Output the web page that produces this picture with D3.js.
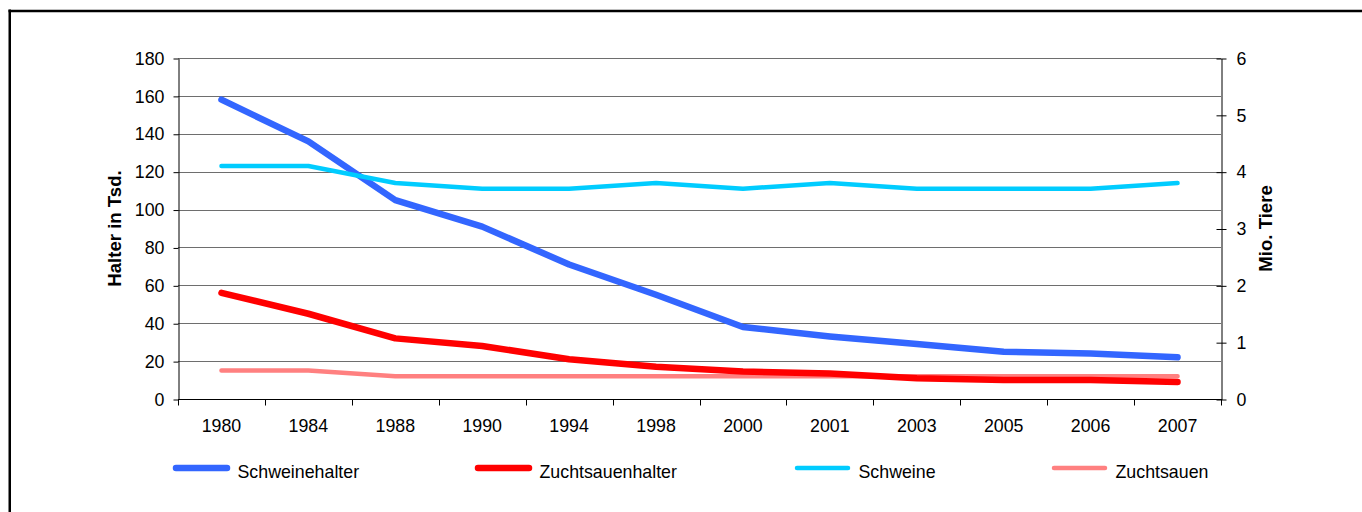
<!DOCTYPE html>
<html>
<head>
<meta charset="utf-8">
<script src="https://cdn.jsdelivr.net/npm/d3@7"></script>
<style>
  html, body { margin: 0; padding: 0; background: #fff; }
  svg { display: block; font-family: "Liberation Sans", Arial, sans-serif; }
</style>
</head>
<body>
<svg id="chart" width="1362" height="512"></svg>
<script>
// Years along the x axis
const years = ["1980", "1984", "1988", "1990", "1994", "1998", "2000", "2001", "2003", "2005", "2006", "2007"];

// Holders in thousands (left axis)
const schweinehalter   = [158, 136, 105, 91, 71, 55, 38, 33, 29, 25, 24, 22];
const zuchtsauenhalter = [56, 45, 32, 28, 21, 17, 14.5, 13.5, 11, 10, 10, 9];

// Animals in millions (right axis)
const schweine    = [4.1, 4.1, 3.8, 3.7, 3.7, 3.8, 3.7, 3.8, 3.7, 3.7, 3.7, 3.8];
const zuchtsauen  = [0.5, 0.5, 0.4, 0.4, 0.4, 0.4, 0.4, 0.4, 0.4, 0.4, 0.4, 0.4];

const leftTicks  = [0, 20, 40, 60, 80, 100, 120, 140, 160, 180];
const rightTicks = [0, 1, 2, 3, 4, 5, 6];

const FONT = "Liberation Sans, Arial, sans-serif";
const FS = 17.8;

const svg = d3.select("#chart");

// outer frame (left and top edge)
svg.append("line").attr("x1", 9.75).attr("x2", 9.75).attr("y1", 9.5).attr("y2", 512)
  .attr("stroke", "#000").attr("stroke-width", 2.5);
svg.append("line").attr("x1", 8.5).attr("x2", 1362).attr("y1", 11).attr("y2", 11)
  .attr("stroke", "#000").attr("stroke-width", 2.5);

const plot = { left: 178, right: 1221, top: 58, bottom: 399 };

const x = d3.scaleBand().domain(years).range([plot.left, plot.right]);
const yL = d3.scaleLinear().domain([0, 180]).range([plot.bottom, plot.top]);
const yR = d3.scaleLinear().domain([0, 6]).range([plot.bottom, plot.top]);

// horizontal gridlines
svg.append("g").selectAll("line").data(leftTicks.filter(d => d > 0)).join("line")
  .attr("x1", plot.left).attr("x2", plot.right)
  .attr("y1", d => Math.round(yL(d)) + 0.5).attr("y2", d => Math.round(yL(d)) + 0.5)
  .attr("stroke", "#6e6e6e").attr("stroke-width", 1);

// left axis
const gL = svg.append("g").attr("transform", `translate(${plot.left + 0.5},0.5)`)
  .call(d3.axisLeft(yL).tickValues(leftTicks).tickSize(5).tickSizeOuter(0).tickPadding(9));
gL.select(".domain").attr("stroke", "#000");
gL.selectAll(".tick line").attr("stroke", "#000");
gL.selectAll(".tick text").attr("font-size", FS).attr("fill", "#000").attr("font-family", FONT);

// right axis, ticks crossing the axis line
const gR = svg.append("g").attr("transform", `translate(${plot.right + 0.5},0.5)`)
  .call(d3.axisRight(yR).tickValues(rightTicks).tickFormat(d3.format("d"))
    .tickSize(5).tickSizeOuter(0).tickPadding(10));
gR.select(".domain").attr("stroke", "#000");
gR.selectAll(".tick line").attr("stroke", "#000").attr("x1", -5).attr("x2", 5);
gR.selectAll(".tick text").attr("font-size", FS).attr("fill", "#000").attr("font-family", FONT);

// bottom axis with ticks between categories
const gB = svg.append("g").attr("transform", `translate(0,${plot.bottom + 0.5})`);
gB.append("line").attr("x1", plot.left).attr("x2", plot.right + 1).attr("stroke", "#000");
const boundaries = years.map(d => x(d)).concat([plot.right]);
gB.selectAll("line.tk").data(boundaries).join("line").attr("class", "tk")
  .attr("x1", d => Math.round(d) + 0.5).attr("x2", d => Math.round(d) + 0.5)
  .attr("y1", 0).attr("y2", 6).attr("stroke", "#000");
gB.selectAll("text").data(years).join("text")
  .attr("x", d => x(d) + x.bandwidth() / 2).attr("y", 32)
  .attr("text-anchor", "middle").attr("font-size", FS).attr("fill", "#000")
  .text(d => d);

// axis titles
svg.append("text").attr("transform", `translate(121,${(plot.top + plot.bottom) / 2}) rotate(-90)`)
  .attr("text-anchor", "middle").attr("font-size", 18.6).attr("font-weight", "bold")
  .text("Halter in Tsd.");
svg.append("text").attr("transform", `translate(1272,${(plot.top + plot.bottom) / 2}) rotate(-90)`)
  .attr("text-anchor", "middle").attr("font-size", 18.6).attr("font-weight", "bold")
  .text("Mio. Tiere");

// series definitions
const series = [
  { name: "Schweinehalter",   values: schweinehalter,   scale: yL, color: "#3366FF", width: 6.5 },
  { name: "Zuchtsauen",       values: zuchtsauen,       scale: yR, color: "#FF8080", width: 4.5 },
  { name: "Zuchtsauenhalter", values: zuchtsauenhalter, scale: yL, color: "#FF0000", width: 6.5 },
  { name: "Schweine",         values: schweine,         scale: yR, color: "#00CCFF", width: 4.5 }
];

const cx = (i) => x(years[i]) + x.bandwidth() / 2;

series.forEach(s => {
  const line = d3.line().x((d, i) => cx(i)).y(d => s.scale(d));
  svg.append("path").datum(s.values)
    .attr("d", line).attr("fill", "none")
    .attr("stroke", s.color).attr("stroke-width", s.width)
    .attr("stroke-linecap", "round").attr("stroke-linejoin", "round");
});

// legend
const legendItems = [
  { name: "Schweinehalter",   color: "#3366FF", width: 6.5, x: 176 },
  { name: "Zuchtsauenhalter", color: "#FF0000", width: 6.5, x: 478 },
  { name: "Schweine",         color: "#00CCFF", width: 4.5, x: 797 },
  { name: "Zuchtsauen",       color: "#FF8080", width: 4.5, x: 1054 }
];
const lg = svg.append("g");
legendItems.forEach(it => {
  lg.append("line").attr("x1", it.x).attr("x2", it.x + 51).attr("y1", 468).attr("y2", 468)
    .attr("stroke", it.color).attr("stroke-width", it.width).attr("stroke-linecap", "round");
  lg.append("text").attr("x", it.x + 61.5).attr("y", 478).attr("font-size", FS).attr("fill", "#000")
    .text(it.name);
});
</script>
</body>
</html>
